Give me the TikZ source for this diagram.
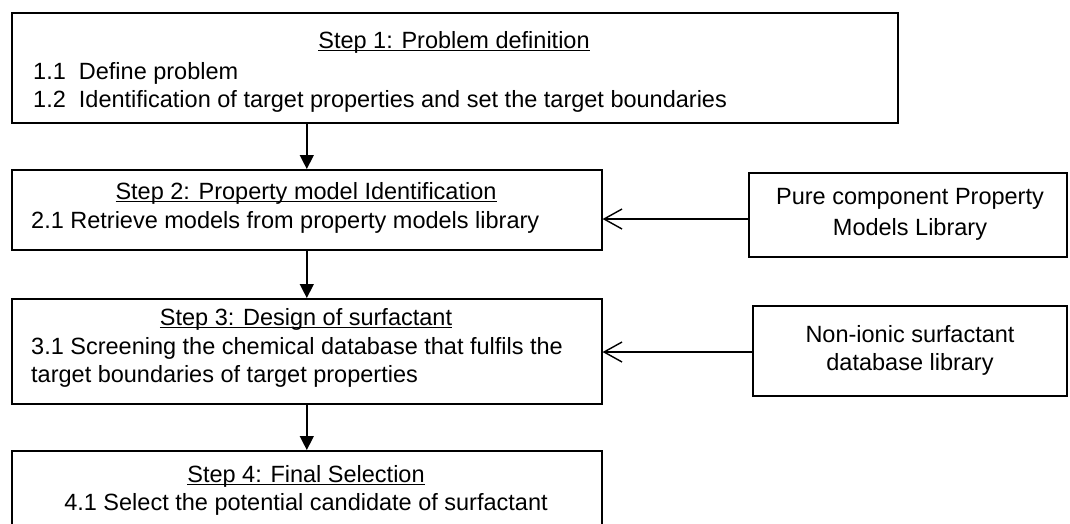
\documentclass[tikz,border=0pt]{standalone}
\usepackage{fontspec}
\setmainfont{Liberation Sans}
\usetikzlibrary{arrows.meta}
\newcommand\myul[1]{\setbox0=\hbox{#1}\rlap{\rule[-2.8pt]{\wd0}{1.3pt}}\box0}
\begin{document}
\begin{tikzpicture}[x={(1pt,0pt)},y={(0pt,-1pt)},
  box/.style={draw, line width=1.6pt, anchor=north west, inner sep=0pt},
  lbl/.style={inner sep=0pt, font=\fontsize{23.5}{28}\selectfont},
  lblw/.style={lbl, anchor=west},
  vflow/.style={line width=1.4pt, -{Triangle[length=14pt,width=14pt]}},
  hflow/.style={line width=1.4pt, -{Straight Barb[length=18pt,width=20pt,line width=1.4pt]}}]
\useasboundingbox (0,0) rectangle (1070,523);
\clip (0,0) rectangle (1070,523);
% Step 1
\node[box, minimum width=886pt, minimum height=110pt] (s1) at (11,12) {};
\node[lbl] (s1t) at (454,42) {\myul{Step 1: Problem definition}};
\node[lblw] (s1a) at (33,73) {1.1\ \ Define problem};
\node[lblw] (s1b) at (33,101) {1.2\ \ Identification of target properties and set the target boundaries};
% Step 2
\node[box, minimum width=590pt, minimum height=80pt] (s2) at (11,169) {};
\node[lbl] (s2t) at (306,193) {\myul{Step 2: Property model Identification}};
\node[lblw] (s2a) at (31,222) {2.1 Retrieve models from property models library};
% Library A
\node[box, minimum width=318pt, minimum height=84pt] (la) at (748,172) {};
\node[lbl] (lat) at (910,199) {Pure component Property};
\node[lbl] (lab) at (910,229) {Models Library};
\coordinate (la-in) at (748,219);
% Step 3
\node[box, minimum width=590pt, minimum height=105pt] (s3) at (11,298) {};
\node[lbl] (s3t) at (306,319) {\myul{Step 3: Design of surfactant}};
\node[lblw] (s3a) at (31,348) {3.1 Screening the chemical database that fulfils the};
\node[lblw] (s3b) at (31,376) {target boundaries of target properties};
% Library B
\node[box, minimum width=314pt, minimum height=90pt] (lb) at (752,305) {};
\node[lbl] (lbt) at (910,334) {Non-ionic surfactant};
\node[lbl] (lbb) at (910,364) {database library};
\coordinate (lb-in) at (752,352);
% Step 4
\node[box, minimum width=590pt, minimum height=110pt] (s4) at (11,450) {};
\node[lbl] (s4t) at (306,476) {\myul{Step 4: Final Selection}};
\node[lbl] (s4a) at (306,504) {4.1 Select the potential candidate of surfactant};
% connectors
\draw[vflow] (s2.north |- s1.south) -- (s2.north);
\draw[vflow] (s2.south) -- (s3.north);
\draw[vflow] (s3.south) -- (s4.north);
\draw[hflow] (la-in) -- (s2.east |- la-in);
\draw[hflow] (lb-in) -- (s3.east |- lb-in);
\end{tikzpicture}
\end{document}
